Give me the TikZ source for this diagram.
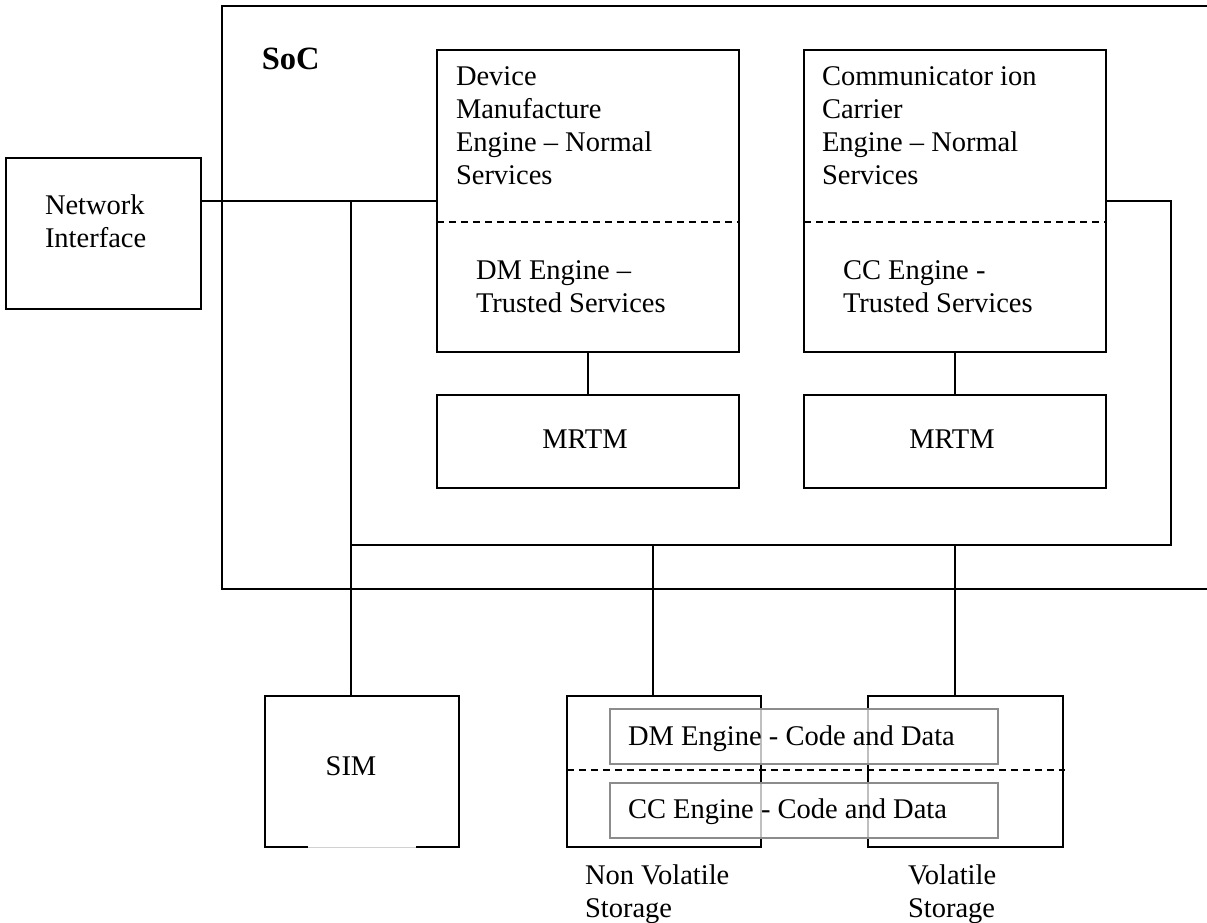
\documentclass[tikz,border=0pt]{standalone}
\usepackage{fontspec}
\setmainfont{Liberation Serif}
\usetikzlibrary{calc}
\begin{document}
\begin{tikzpicture}[x=1pt,y=-1pt,
  line width=1.8pt,
  box/.style={draw, line width=1.8pt, inner sep=0pt, outer sep=0pt,
              minimum width=#1},
  box/.default=302pt,
  codebox/.style={draw=black!45, line width=1.5pt, fill=white,
              fill opacity=0.75, draw opacity=1, inner sep=0pt,
              minimum width=388pt, minimum height=55pt},
  dashline/.style={line width=1.5pt, dash pattern=on 7pt off 5pt},
  lbl/.style={inner sep=0pt, outer sep=0pt, align=left,
              font=\fontsize{28.5pt}{33pt}\selectfont},
  title/.style={inner sep=0pt, font=\fontsize{32.5pt}{38pt}\selectfont\bfseries}]
\useasboundingbox (0,0) rectangle (1207,922);
\clip (0,0) rectangle (1207,922);

% system-on-chip frame (runs past the right edge)
\node[box=1008pt, minimum height=583pt] (soc) at (726,297.5) {};
\node[title, anchor=base west] (soclbl) at (261,69) {SoC};

% network interface
\node[box=195pt, minimum height=151pt] (ni) at (103.5,233.5) {};
\node[lbl, anchor=north west] (nitxt) at (45,194.5) {Network\\Interface};

% engines
\node[box, minimum height=302pt] (dm) at (588,201) {};
\node[box, minimum height=302pt] (cc) at (955,201) {};
\draw[dashline] (dm.west |- 0,222) -- (dm.east |- 0,222);
\draw[dashline] (cc.west |- 0,222) -- (cc.east |- 0,222);
\node[lbl, anchor=north west] (dmn) at (456,66.5)
  {Device\\Manufacture\\Engine – Normal\\Services};
\node[lbl, anchor=north west] (dmt) at (476,260.5)
  {DM Engine –\\Trusted Services};
\node[lbl, anchor=north west] (ccn) at (822,66.5)
  {Communicator ion\\Carrier\\Engine – Normal\\Services};
\node[lbl, anchor=north west] (cct) at (843,260.5)
  {CC Engine -\\Trusted Services};

% measurement roots of trust
\node[box, minimum height=93pt] (m1) at (588,441.5) {};
\node[box, minimum height=93pt] (m2) at (955,441.5) {};
\node[lbl, anchor=base] (m1txt) at (585,448) {MRTM};
\node[lbl, anchor=base] (m2txt) at (952,448) {MRTM};

% external components
\node[box=194pt, minimum height=151pt] (sim) at (362,771.5) {};
\draw[white, line width=2.6pt] (308,847) -- (416,847);
\draw[black!18, line width=1pt] (308,847) -- (416,847);
\node[lbl, anchor=base] (simtxt) at (351,775) {SIM};

\node[box=194pt, minimum height=151pt] (nvs) at (664,771.5) {};
\node[box=195pt, minimum height=151pt] (vs) at (965.5,771.5) {};
\coordinate (sepend) at (1065,770);
\draw[dashline] (nvs.west |- sepend) -- (sepend);
\node[codebox] (dmcode) at (804,736.5) {};
\node[codebox] (cccode) at (804,810.5) {};
\node[lbl, anchor=base west] (dmctxt) at (628,745) {DM Engine - Code and Data};
\node[lbl, anchor=base west] (ccctxt) at (628,818) {CC Engine - Code and Data};
\node[lbl, anchor=north west] (nvstxt) at (585,864.5) {Non Volatile\\Storage};
\node[lbl, anchor=north west] (vstxt) at (908,864.5) {Volatile\\Storage};

% interconnect
\coordinate (j1) at (351,201);
\coordinate (j2) at (351,545);
\coordinate (rt) at (1171,201);
\coordinate (n1) at (653,545);
\coordinate (v1) at (955,545);
\draw (ni.east |- j1) -- (dm.west |- j1);
\draw (j1) -- (j1 |- sim.north);
\draw (cc.east |- rt) -- (rt) -- (rt |- j2) -- (j2);
\draw (dm.south) -- (m1.north);
\draw (cc.south) -- (m2.north);
\draw (n1) -- (n1 |- nvs.north);
\draw (v1) -- (v1 |- vs.north);
\draw[dashline] ($(m1.west)+(0,-3.5)$ -| j1) -- ($(m1.west)+(0,-3.5)$);
\draw[dashline] ($(m2.east)+(0,-3.5)$) -- ($(m2.east)+(0,-3.5)$ -| rt);
\end{tikzpicture}
\end{document}
